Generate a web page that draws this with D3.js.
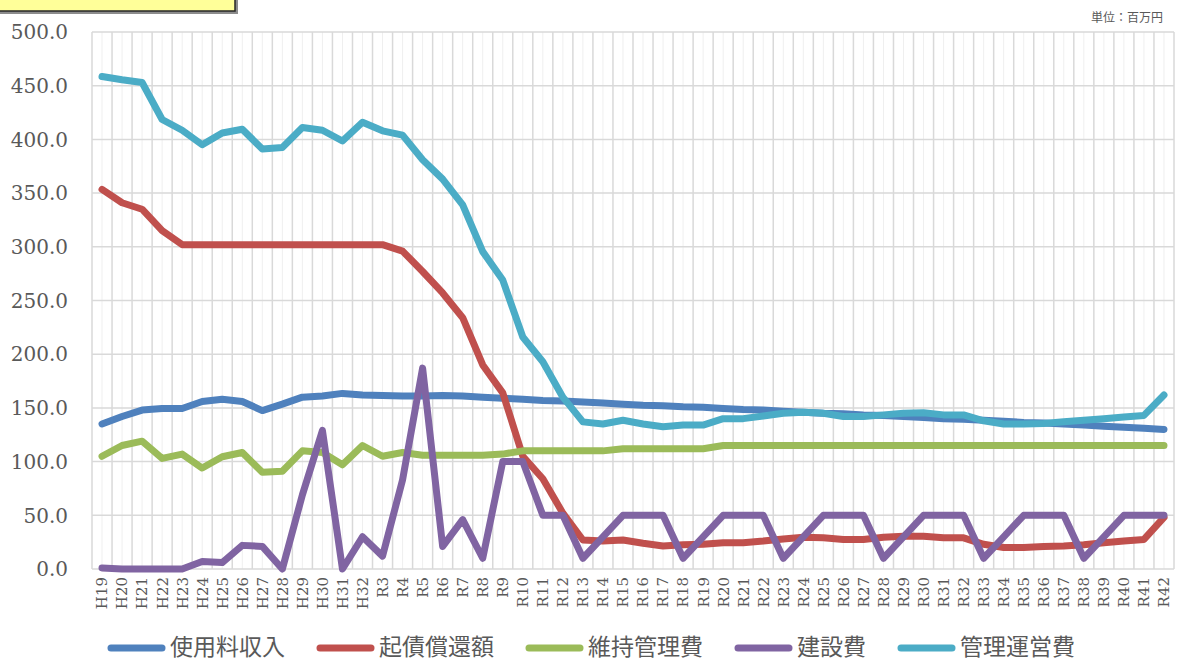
<!DOCTYPE html>
<html>
<head>
<meta charset="utf-8">
<script src="https://cdn.jsdelivr.net/npm/d3@7"></script>
<style>
  body { margin: 0; background: #fff; }
  svg { display: block; }
  .ylab { font-family: "DejaVu Serif", serif; font-size: 20px; fill: #595959; }
  .xlab { font-family: "DejaVu Serif", serif; font-size: 15px; fill: #595959; }
  .leg { font-family: "Noto Sans CJK JP", sans-serif; font-size: 23px; fill: #595959; }
  .unit { font-family: "Noto Sans CJK JP", sans-serif; font-size: 12px; fill: #595959; }
</style>
</head>
<body>
<svg id="chart" width="1182" height="662"></svg>
<script>
// fiscal years (平成 H19-H32, 令和 R3-R42)
var years = ["H19","H20","H21","H22","H23","H24","H25","H26","H27","H28","H29","H30","H31","H32",
  "R3","R4","R5","R6","R7","R8","R9","R10","R11","R12","R13","R14","R15","R16","R17","R18","R19",
  "R20","R21","R22","R23","R24","R25","R26","R27","R28","R29","R30","R31","R32","R33","R34","R35",
  "R36","R37","R38","R39","R40","R41","R42"];

// 使用料収入
var usageFee = [135,142,148,149.5,149.5,156,158,156,147.5,153.5,160,161,163.5,162,
  161.5,161,161,161.5,161,160,159,158,157,156.5,155.5,154.5,153.5,152.5,152,151,150.5,
  149.5,148.5,148,147,146,145,144.5,143.5,143,142,141,140,139.5,138.5,137.5,136.5,
  136,135,134,133,132,131,130];

// 起債償還額
var bondRepay = [353.5,341,335,315,302,302,302,302,302,302,302,302,302,302,
  302,296,277,257,234,190,164,105,84,52,27,26,27,24,21.5,22.5,23,
  24.5,24.5,26,28,29.5,29,27.5,27.5,29.5,30.5,30.5,29,29,23,20,20,
  21,21.5,22.5,24.5,26,27.5,48];

// 維持管理費
var upkeep = [105,115,119,103,107,94,104.5,108.5,90,91,110,108.5,97,115,
  105,108.5,106,106,106,106,107,110,110,110,110,110,112,112,112,112,112,
  115,115,115,115,115,115,115,115,115,115,115,115,115,115,115,115,
  115,115,115,115,115,115,115];

// 建設費
var construction = [1,0,0,0,0,7,6,22,21,0,69,129,0,30,
  12,83,187,21,46,10,100,100,50,50,10,30,50,50,50,10,30,
  50,50,50,10,30,50,50,50,10,30,50,50,50,10,30,50,
  50,50,10,30,50,50,50];

// 管理運営費
var operation = [458.5,455.5,453,418.5,408.5,395,406,409.5,391,392.5,411,408.5,398.5,416,
  408,404,381,363,339,295.5,269,216,193,160,137,135,138.5,135,132.5,134,134,
  140,140,142.5,145,146,145,142,142,143.5,145,145.5,143.5,143.5,138,135,135,
  135.5,137,138.5,140,141.5,143,162];

var seriesNames = ["使用料収入","起債償還額","維持管理費","建設費","管理運営費"];
var seriesColors = ["#4f81bd","#c0504d","#9bbb59","#8064a2","#4bacc6"];
var seriesValues = [usageFee, bondRepay, upkeep, construction, operation];
var yTicks = [0,50,100,150,200,250,300,350,400,450,500];

var margin = {top: 32, right: 8, bottom: 93, left: 92},
    width = 1182 - margin.left - margin.right,
    height = 662 - margin.top - margin.bottom;

var svg = d3.select("#chart");

// title box in the top-left corner (mostly cut off)
svg.append("rect").attr("x", -4).attr("y", -20).attr("width", 242).attr("height", 34).attr("fill", "#8c8c8c");
svg.append("rect").attr("x", -4).attr("y", -20).attr("width", 239).attr("height", 31)
  .attr("fill", "#ffff99").attr("stroke", "#262626").attr("stroke-width", 1.5);

svg.append("text").attr("class", "unit")
  .attr("x", 1163).attr("y", 22).attr("text-anchor", "end")
  .text("単位：百万円");

var g = svg.append("g").attr("transform", "translate(" + margin.left + "," + margin.top + ")");

var x = d3.scalePoint().domain(years).range([0, width]).padding(0.5);
var y = d3.scaleLinear().domain([0, 500]).range([height, 0]);
var step = x.step();

// light lines at each category
g.append("g").selectAll("line").data(years).enter().append("line")
  .attr("x1", function(d) { return x(d); }).attr("x2", function(d) { return x(d); })
  .attr("y1", 0).attr("y2", height)
  .attr("stroke", "#efefef").attr("stroke-width", 1);

// darker lines between categories
var bounds = d3.range(years.length + 1);
g.append("g").selectAll("line").data(bounds).enter().append("line")
  .attr("x1", function(i) { return i * step; }).attr("x2", function(i) { return i * step; })
  .attr("y1", 0).attr("y2", height)
  .attr("stroke", "#d9d9d9").attr("stroke-width", 1.5);

// horizontal grid
g.append("g").selectAll("line").data(yTicks).enter().append("line")
  .attr("x1", 0).attr("x2", width)
  .attr("y1", function(d) { return y(d); }).attr("y2", function(d) { return y(d); })
  .attr("stroke", "#d9d9d9").attr("stroke-width", 1.5);

// y labels
g.append("g").selectAll("text").data(yTicks).enter().append("text")
  .attr("class", "ylab")
  .attr("x", -24).attr("y", function(d) { return y(d); })
  .attr("dy", "0.36em").attr("text-anchor", "end")
  .text(function(d) { return d3.format(".1f")(d); });

// x labels, rotated
g.append("g").selectAll("text").data(years).enter().append("text")
  .attr("class", "xlab")
  .attr("transform", function(d) { return "translate(" + x(d) + "," + (height + 8) + ") rotate(-90)"; })
  .attr("dy", "0.36em").attr("text-anchor", "end")
  .text(function(d) { return d; });

var line = d3.line()
  .x(function(d, i) { return x(years[i]); })
  .y(function(d) { return y(d); });

seriesValues.forEach(function(vals, k) {
  g.append("path")
    .datum(vals)
    .attr("d", line)
    .attr("fill", "none")
    .attr("stroke", seriesColors[k])
    .attr("stroke-width", 7)
    .attr("stroke-linejoin", "round")
    .attr("stroke-linecap", "round");
});

// legend
var lx = 108, ly = 648;
seriesNames.forEach(function(name, k) {
  svg.append("line")
    .attr("x1", lx + 3).attr("x2", lx + 54).attr("y1", ly).attr("y2", ly)
    .attr("stroke", seriesColors[k]).attr("stroke-width", 7).attr("stroke-linecap", "round");
  var t = svg.append("text").attr("class", "leg")
    .attr("x", lx + 62).attr("y", ly + 7)
    .text(name);
  lx = lx + 62 + t.node().getComputedTextLength() + 32;
});
</script>
</body>
</html>
